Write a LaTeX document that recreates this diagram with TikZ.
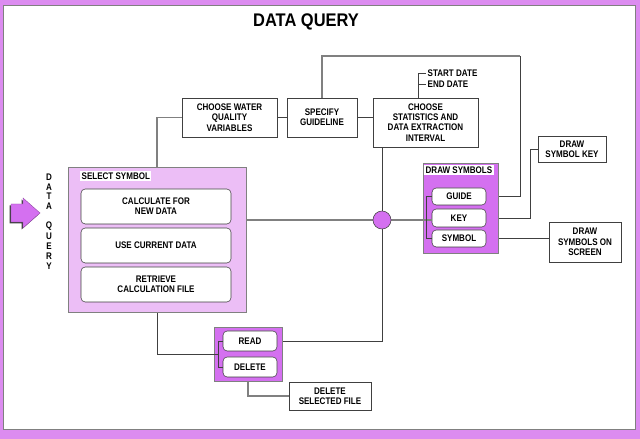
\documentclass[tikz,border=0pt]{standalone}
\usepackage{fontspec}
\setmainfont{Liberation Sans}
\newfontfamily\boxfont{Liberation Sans}[FakeStretch=0.84]
\newfontfamily\titlefont{Liberation Sans}[FakeStretch=0.9]
\usetikzlibrary{calc,backgrounds}
\definecolor{frame}{RGB}{220,140,240}
\definecolor{lightlilac}{RGB}{236,190,246}
\definecolor{lilac}{RGB}{212,112,240}
\definecolor{gline}{RGB}{128,128,128}
\definecolor{dline}{RGB}{64,64,64}
\def\px{0.025cm}
\tikzset{every node/.style={font=\boxfont\bfseries\fontsize{6.8}{7.3}\selectfont},
    box/.style 2 args={draw=dline,fill=white,align=center,inner sep=1pt,
      minimum width=#1*\px,minimum height=#2*\px},
    btn/.style 2 args={box={#1}{#2},rounded corners=3pt},
    panel/.style n args={3}{draw=gline,fill=#3,minimum width=#1*\px,minimum height=#2*\px},
    lbl/.style={fill=white,inner sep=1pt,anchor=north west},
    gray line/.style={draw=gline,line width=1pt},
    dark line/.style={draw=dline,line width=.7pt}}

\begin{document}
\begin{tikzpicture}[x=\px,y=-\px]
    \useasboundingbox (0,0) rectangle (640,439);
    \begin{scope}[on background layer]
      \fill[frame] (0,0) rectangle (640,439);
      \draw[fill=white,draw=gray] (3,5) rectangle (635,429);
    \end{scope}
    \node (title) at (306,22) {\titlefont\bfseries\fontsize{13}{15}\selectfont DATA QUERY};
    % entry arrow
    \fill[dline] (9.5,205.5) -- (21.5,205.5) -- (21.5,199.5) -- (38.5,214.5) -- (21.5,229.5) -- (21.5,223.5) -- (9.5,223.5) -- cycle;
    \filldraw[fill=lilac,draw=lilac!70!black,line width=.3pt] (11,204) -- (23,204) -- (23,198) -- (40,213) -- (23,228) -- (23,222) -- (11,222) -- cycle;
    \foreach \c [count=\i] in {D,A,T,A,,Q,U,E,R,Y}
      \node[inner sep=0pt] (v\i) at (49,167+\i*9.9) {\c};
    % top row
    \node[box={95}{39}] (water) at (229.5,117.5) {CHOOSE WATER\\QUALITY\\VARIABLES};
    \node[box={70}{39}] (guide) at (322,117.5) {SPECIFY\\GUIDELINE};
    \node[box={105}{49}] (stats) at (425.5,122.5) {CHOOSE\\STATISTICS AND\\DATA EXTRACTION\\INTERVAL};
    \node[inner sep=1pt,anchor=west] (start) at (426,73) {START DATE};
    \node[inner sep=1pt,anchor=west] (end) at (426,84) {END DATE};
    % select symbol panel
    \node[panel={178}{145}{lightlilac}] (select) at (157,239.5) {};
    \node[lbl] (selectlbl) at (80,171) {SELECT SYMBOL};
    \node[btn={150}{35}] (calc) at (156,206.5) {CALCULATE FOR\\NEW DATA};
    \node[btn={150}{35}] (current) at (156,245.5) {USE CURRENT DATA};
    \node[btn={150}{35}] (retrieve) at (156,284.5) {RETRIEVE\\CALCULATION FILE};
    % hub
    \node[circle,draw=dline,fill=lilac,minimum size=18*\px,inner sep=0pt] (hub) at (382,220) {};
    % draw symbols panel
    \node[panel={75}{90}{lilac}] (drawsym) at (460.5,208) {};
    \node[lbl] (drawlbl) at (424,165) {DRAW SYMBOLS};
    \node[btn={54}{17}] (guidebtn) at (459,196.5) {GUIDE};
    \node[btn={54}{18}] (keybtn) at (459,218) {KEY};
    \node[btn={54}{17}] (symbtn) at (459,238.5) {SYMBOL};
    \node[box={68}{26}] (symkey) at (572,149) {DRAW\\SYMBOL KEY};
    \node[box={72}{40}] (screen) at (585,242) {DRAW\\SYMBOLS ON\\SCREEN};
    % file panel
    \node[panel={68}{54}{lilac}] (file) at (248,354) {};
    \node[btn={54}{20}] (read) at (250,341) {READ};
    \node[btn={54}{20}] (delete) at (250,367) {DELETE};
    \node[box={82}{28}] (delfile) at (330,396) {DELETE\\SELECTED FILE};
    \coordinate (topright) at (520,56);
    \begin{scope}[on background layer]
      \path[gray line] (water.west) -| (select.north);
      \path[dark line] (water.east) -- (guide.west);
      \path[dark line] (guide.east) -- (guide.east -| stats.west);
      \path[gray line] (guide.north) |- (topright);
      \path[dark line] (topright) |- (guidebtn.east);
      \path[dark line] ([xshift=-7.5*\px]stats.north) |- (start.west);
      \path[dark line] ([xshift=-7.5*\px]stats.north |- end.west) -- (end.west);
      \path[dark line] (hub.north) -- (hub.north |- stats.south);
      \path[dark line] (hub.south) |- (read.east);
      \path[gray line] (hub.west) -- (hub.west -| select.east);
      \path[gray line] (hub.east) -- (hub.east -| drawsym.west);
      \path[dark line] (keybtn.east) -- ++(44,0) |- (symkey.west);
      \path[dark line] (symbtn.east) -- (symbtn.east -| screen.west);
      \path[dark line] (select.south) |- ($(read.west)!.5!(delete.west)+(-4,0)$);
      \path[gray line] (file.south) |- (delfile.west);
    \end{scope}
    % brackets inside the panels
    \path[gray line] (hub.east -| drawsym.west) -- (hub.east -| keybtn.west);
    \path[dark line] (guidebtn.west) -- ++(-5,0) |- (symbtn.west);
    \path[dark line] ($(read.west)!.5!(delete.west)+(-4,0)$) -- +(-5,0);
    \path[dark line] (read.west) -- ++(-4,0) |- (delete.west);
\end{tikzpicture}
\end{document}
